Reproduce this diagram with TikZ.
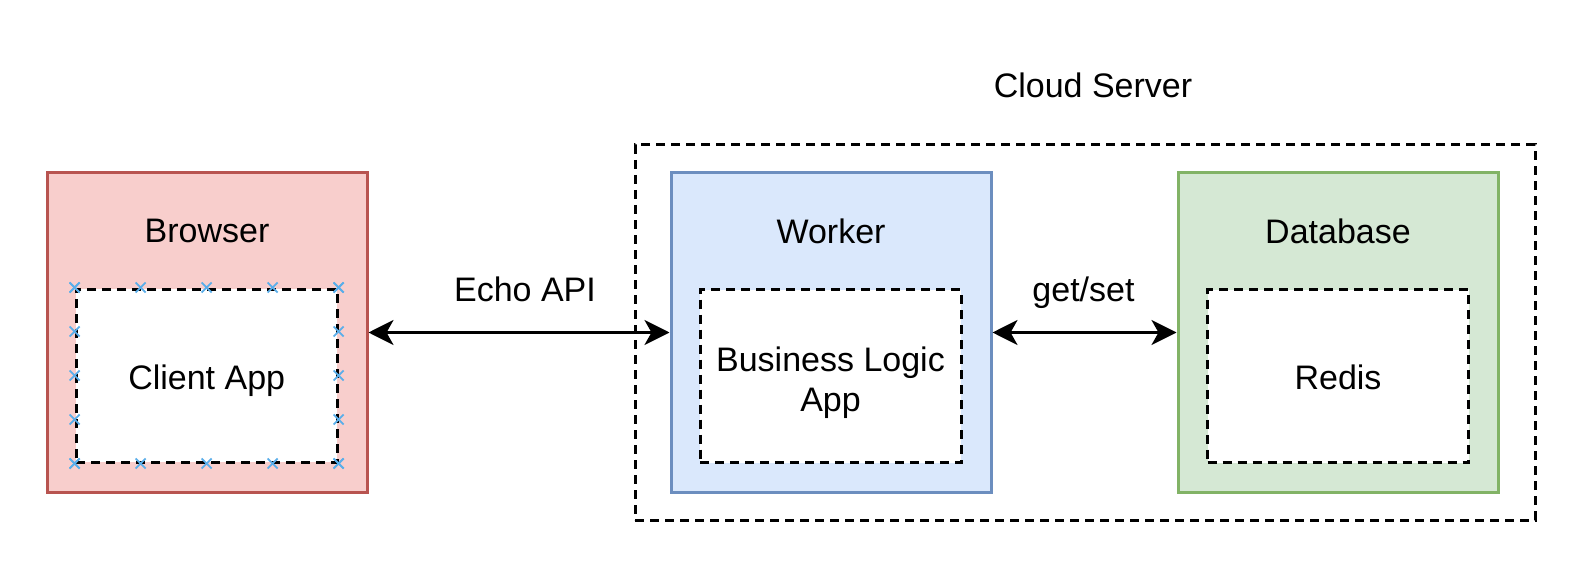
\documentclass[tikz,border=0pt]{standalone}
\usepackage{fontspec}
\setmainfont{Liberation Sans}
\usetikzlibrary{arrows.meta,calc}
\definecolor{redfill}{HTML}{F8CECC}
\definecolor{redline}{HTML}{B85450}
\definecolor{bluefill}{HTML}{DAE8FC}
\definecolor{blueline}{HTML}{6C8EBF}
\definecolor{greenfill}{HTML}{D5E8D4}
\definecolor{greenline}{HTML}{82B366}
\definecolor{markblue}{HTML}{5AAEEA}
\tikzset{
  outerbox/.style={rectangle, line width=3pt, minimum width=320pt, minimum height=319pt, inner sep=0pt},
  innerbox/.style={rectangle, draw=black, fill=white, line width=3pt, dash pattern=on 9pt off 6pt, minimum width=261pt, minimum height=173pt, inner sep=0pt},
  cloudbox/.style={rectangle, draw=black, line width=3pt, dash pattern=on 9pt off 6pt, minimum width=900pt, minimum height=375pt, inner sep=0pt},
  lbl/.style={font=\fontsize{34}{40}\selectfont, inner sep=0pt, anchor=base, align=center},
  arr/.style={line width=3pt, {Stealth[length=25pt, width=25pt, inset=7pt]}-{Stealth[length=25pt, width=25pt, inset=7pt]}},
  xmark/.style={draw=markblue, line width=1.8pt}
}
\begin{document}
\begin{tikzpicture}[x=1pt, y=-1pt]
\useasboundingbox[fill=white] (0,0) rectangle (1586,580);
% cloud
\node[cloudbox] (cloud) at (1085,332.5) {};
\node[lbl] (cloudlbl) at (1093,97.7) {Cloud Server};
% browser
\node[outerbox, draw=redline, fill=redfill] (browser) at (207,332.5) {};
\node[lbl] (browserlbl) at (207,242.7) {Browser};
\node[innerbox] (client) at (206.7,375.5) {};
\node[lbl] (clientlbl) at (206.7,389.3) {Client App};
% worker
\node[outerbox, draw=blueline, fill=bluefill] (worker) at (831,332.5) {};
\node[lbl] (workerlbl) at (831,243.3) {Worker};
\node[innerbox] (logic) at (830.5,376) {};
\node[lbl, anchor=center] (logiclbl) at (830.5,383) {Business Logic\\App};
% database
\node[outerbox, draw=greenline, fill=greenfill] (db) at (1338,332.5) {};
\node[lbl] (dblbl) at (1338,243.3) {Database};
\node[innerbox] (redis) at (1338,376) {};
\node[lbl] (redislbl) at (1338,389.3) {Redis};
% arrows
\draw[arr] (browser.east) -- (worker.west);
\draw[arr] (worker.east) -- (db.west);
\node[lbl] (echolbl) at (525,301.7) {Echo API};
\node[lbl] (getlbl) at (1083.5,301.7) {get/set};
% connection marks on client app
\foreach \f in {0,0.25,0.5,0.75,1}{
  \foreach \a/\b in {north west/north east, south west/south east, north west/south west, north east/south east}{
    \coordinate (m) at ($(client.\a)!\f!(client.\b)$);
    \draw[xmark] ($(m)+(-5,-5)$) -- ($(m)+(5,5)$) ($(m)+(-5,5)$) -- ($(m)+(5,-5)$);
  }
}
\end{tikzpicture}
\end{document}
